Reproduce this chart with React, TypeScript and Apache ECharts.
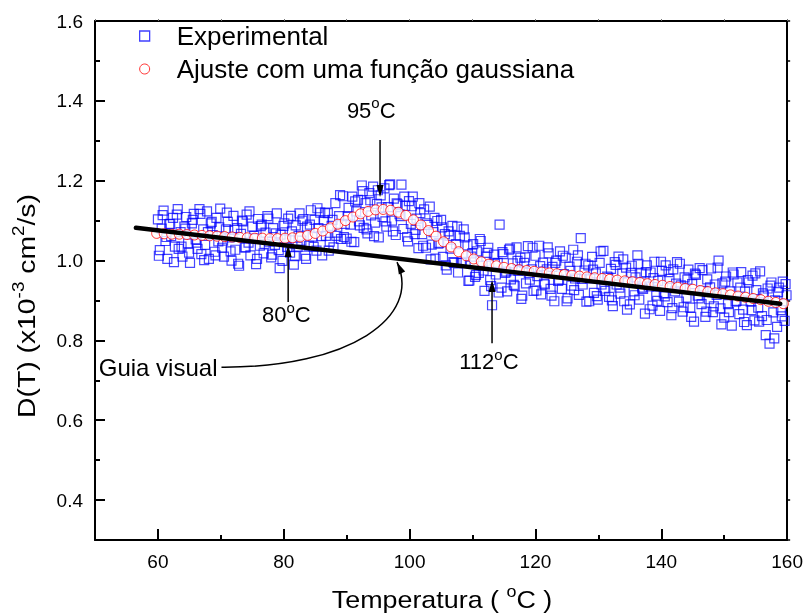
import React, { useEffect, useRef } from "react";
import * as echarts from "echarts";

const FONT = "'Liberation Sans', Arial, Helvetica, sans-serif";

// axis ranges / ticks / labels
const xRange = [50, 160];
const yRange = [0.3, 1.6];
const xMajorTicks = [60, 80, 100, 120, 140, 160];
const xMinorTicks = [70, 90, 110, 130, 150];
const yMajorTicks = [0.4, 0.6, 0.8, 1.0, 1.2, 1.4, 1.6];
const yMinorTicks = [0.5, 0.7, 0.9, 1.1, 1.3, 1.5];

// Experimental data [T (°C), D (x10^-3 cm^2/s)]
const experimental: [number, number][] = [
  [60.0, 1.103], [60.3, 1.026], [60.6, 1.080], [60.9, 1.125], [61.2, 1.049], [61.5, 1.004], [61.8, 1.091], [62.1, 1.061], [62.4, 1.107], [62.7, 1.035],
  [63.0, 1.115], [63.3, 1.029], [63.6, 1.071], [63.9, 1.010], [64.2, 1.085], [64.5, 1.109], [64.8, 1.043], [65.1, 0.994], [65.4, 1.093], [65.7, 1.117],
  [66.0, 1.053], [66.3, 1.029], [66.6, 1.129], [66.9, 1.016], [67.2, 1.078], [67.5, 1.039], [67.8, 1.123], [68.1, 1.004], [68.4, 1.093], [68.7, 1.064],
  [69.0, 1.022], [69.3, 1.107], [69.6, 1.048], [69.9, 1.130], [70.2, 1.032], [70.5, 1.010], [70.8, 1.078], [71.1, 1.097], [71.4, 1.058], [71.7, 1.000],
  [72.0, 1.112], [72.3, 1.027], [72.6, 1.081], [72.9, 0.987], [73.2, 1.067], [73.5, 1.098], [73.8, 1.033], [74.1, 1.115], [74.4, 1.045], [74.7, 1.013],
  [75.0, 1.085], [75.3, 1.062], [75.6, 0.991], [75.9, 1.104], [76.2, 1.037], [76.5, 1.090], [76.8, 1.018], [77.1, 1.070], [77.4, 1.111], [77.7, 1.047],
  [78.0, 1.008], [78.3, 1.081], [78.6, 1.039], [78.9, 1.118], [79.2, 1.026], [79.5, 1.065], [79.8, 0.999], [80.1, 1.093], [80.4, 1.053], [80.7, 1.105],
  [81.0, 1.020], [81.3, 1.073], [81.6, 0.990], [81.9, 1.088], [82.2, 1.035], [82.5, 1.118], [82.8, 1.050], [83.1, 1.104], [83.4, 1.012], [83.7, 1.085],
  [84.0, 1.037], [84.3, 1.126], [84.6, 1.060], [84.9, 1.102], [85.2, 1.025], [85.5, 1.081], [85.8, 1.120], [86.1, 1.013], [86.4, 1.101], [86.7, 1.062],
  [87.0, 1.119], [87.3, 1.047], [87.6, 1.087], [87.9, 1.033], [88.2, 1.144], [88.5, 1.070], [88.8, 1.111], [89.1, 1.054], [89.4, 1.161], [89.7, 1.092],
  [90.0, 1.055], [90.3, 1.132], [90.6, 1.090], [90.9, 1.160], [91.2, 1.046], [91.5, 1.123], [91.8, 1.152], [92.1, 1.088], [92.4, 1.188], [92.7, 1.082],
  [93.0, 1.144], [93.3, 1.068], [93.6, 1.169], [93.9, 1.113], [94.2, 1.185], [94.5, 1.095], [94.8, 1.142], [95.1, 1.058], [95.4, 1.163], [95.7, 1.109],
  [96.0, 1.181], [96.3, 1.085], [96.6, 1.134], [96.9, 1.191], [97.2, 1.100], [97.5, 1.155], [97.8, 1.064], [98.1, 1.141], [98.4, 1.116], [98.7, 1.190],
  [99.0, 1.079], [99.3, 1.137], [99.6, 1.059], [99.9, 1.149], [100.2, 1.092], [100.5, 1.160], [100.8, 1.066], [101.1, 1.105], [101.4, 1.031], [101.7, 1.119],
  [102.0, 1.066], [102.3, 1.128], [102.6, 1.032], [102.9, 1.089], [103.2, 1.135], [103.5, 1.040], [103.8, 1.071], [104.1, 1.005], [104.4, 1.099], [104.7, 1.044],
  [105.0, 1.102], [105.3, 1.009], [105.6, 1.066], [105.9, 0.977], [106.2, 1.073], [106.5, 1.030], [106.8, 1.087], [107.1, 0.994], [107.4, 1.041], [107.7, 0.970],
  [108.0, 1.062], [108.3, 0.994], [108.6, 1.078], [108.9, 0.997], [109.2, 1.038], [109.5, 0.950], [109.8, 1.010], [110.1, 1.041], [110.4, 0.959], [110.7, 1.023],
  [111.0, 0.969], [111.3, 1.049], [111.6, 0.987], [111.9, 0.924], [112.2, 1.010], [112.5, 1.032], [112.8, 0.951], [113.1, 0.888], [113.4, 1.015], [113.7, 0.965],
  [114.0, 0.994], [114.3, 1.090], [114.6, 0.932], [114.9, 1.016], [115.2, 0.969], [115.5, 0.923], [115.8, 1.027], [116.1, 0.953], [116.4, 0.993], [116.7, 0.936],
  [117.0, 1.033], [117.3, 0.974], [117.6, 1.007], [117.9, 0.912], [118.2, 0.994], [118.5, 0.943], [118.8, 1.036], [119.1, 0.952], [119.4, 0.978], [119.7, 0.924],
  [120.0, 1.012], [120.3, 0.961], [120.6, 1.037], [120.9, 0.915], [121.2, 0.995], [121.5, 0.940], [121.8, 0.978], [122.1, 1.018], [122.4, 0.929], [122.7, 0.984],
  [123.0, 0.898], [123.3, 1.000], [123.6, 0.949], [123.9, 1.023], [124.2, 0.929], [124.5, 0.966], [124.8, 1.007], [125.1, 0.905], [125.4, 0.985], [125.7, 0.937],
  [126.0, 1.027], [126.3, 0.955], [126.6, 0.997], [126.9, 0.914], [127.2, 1.056], [127.5, 0.940], [127.8, 0.975], [128.1, 0.897], [128.4, 0.988], [128.7, 0.955],
  [129.0, 1.009], [129.3, 0.919], [129.6, 0.968], [129.9, 0.902], [130.2, 0.994], [130.5, 0.940], [130.8, 1.024], [131.1, 0.924], [131.4, 0.960], [131.7, 0.909],
  [132.0, 0.979], [132.3, 0.886], [132.6, 0.996], [132.9, 0.940], [133.2, 1.010], [133.5, 0.917], [133.8, 0.968], [134.1, 0.898], [134.4, 0.982], [134.7, 0.946],
  [135.0, 0.890], [135.3, 0.987], [135.6, 0.923], [135.9, 0.958], [136.2, 1.013], [136.5, 0.902], [136.8, 0.968], [137.1, 0.929], [137.4, 0.867], [137.7, 0.988],
  [138.0, 0.935], [138.3, 0.970], [138.6, 0.887], [138.9, 0.997], [139.2, 0.912], [139.5, 0.949], [139.8, 0.874], [140.1, 0.974], [140.4, 0.918], [140.7, 0.988],
  [141.0, 0.896], [141.3, 0.954], [141.6, 0.863], [141.9, 0.978], [142.2, 0.923], [142.5, 0.996], [142.8, 0.897], [143.1, 0.938], [143.4, 0.872], [143.7, 0.958],
  [144.0, 0.907], [144.3, 0.977], [144.6, 0.882], [144.9, 0.941], [145.2, 0.847], [145.5, 0.964], [145.8, 0.912], [146.1, 0.981], [146.4, 0.891], [146.7, 0.924],
  [147.0, 0.859], [147.3, 0.953], [147.6, 0.903], [147.9, 0.980], [148.2, 0.871], [148.5, 0.940], [148.8, 0.914], [149.1, 1.000], [149.4, 0.880], [149.7, 0.943],
  [150.0, 0.857], [150.3, 0.960], [150.6, 0.891], [150.9, 0.923], [151.2, 0.837], [151.5, 0.965], [151.8, 0.897], [152.1, 0.945], [152.4, 0.866], [152.7, 0.971],
  [153.0, 0.877], [153.3, 0.922], [153.6, 0.838], [153.9, 0.945], [154.2, 0.897], [154.5, 0.962], [154.8, 0.850], [155.1, 0.926], [155.4, 0.882], [155.7, 0.973],
  [156.0, 0.861], [156.3, 0.912], [156.6, 0.813], [156.9, 0.930], [157.2, 0.792], [157.5, 0.945], [157.8, 0.870], [158.1, 0.900], [158.4, 0.834], [158.7, 0.932],
  [159.0, 0.876], [159.3, 0.947], [159.6, 0.849], [159.9, 0.913],
  [60.15, 1.012], [60.75, 1.114], [61.35, 1.059], [61.95, 1.092], [62.55, 0.996], [63.15, 1.129], [63.75, 1.035], [64.35, 1.080], [64.95, 1.020], [65.55, 1.102],
  [66.15, 1.045], [66.75, 1.117], [67.35, 1.001], [67.95, 1.071], [68.55, 1.097], [69.15, 1.013], [69.75, 1.083], [70.35, 1.050], [70.95, 1.120], [71.55, 1.023],
  [72.15, 1.077], [72.75, 0.992], [73.35, 1.100], [73.95, 1.033], [74.55, 1.123], [75.15, 1.055], [75.75, 1.004], [76.35, 1.086], [76.95, 1.042], [77.55, 1.105],
  [78.15, 1.015], [78.75, 1.068], [79.35, 0.981], [79.95, 1.087], [80.55, 1.034], [81.15, 1.112], [81.75, 1.011], [82.35, 1.062], [82.95, 1.100], [83.55, 1.004],
  [84.15, 1.090], [84.75, 1.034], [85.35, 1.131], [85.95, 1.061], [86.55, 1.120], [87.15, 1.025], [87.75, 1.102], [88.35, 1.062], [88.95, 1.164], [89.55, 1.059],
  [90.15, 1.111], [90.75, 1.047], [91.35, 1.148], [91.95, 1.098], [92.55, 1.174], [93.15, 1.078], [93.75, 1.151], [94.35, 1.061], [94.95, 1.176], [95.55, 1.133],
  [96.15, 1.098], [96.75, 1.189], [97.35, 1.073], [97.95, 1.143], [98.55, 1.111], [99.15, 1.160], [99.75, 1.048], [100.35, 1.136], [100.95, 1.077], [101.55, 1.144],
  [102.15, 1.037], [102.75, 1.093], [103.35, 1.003], [103.95, 1.107], [104.55, 1.042], [105.15, 1.083], [105.75, 0.988], [106.35, 1.062], [106.95, 0.996], [107.55, 1.085],
  [108.15, 0.994], [108.75, 1.058], [109.35, 0.949], [109.95, 1.018], [110.55, 0.964], [111.15, 1.054], [111.75, 0.975], [112.35, 1.019], [112.95, 0.936], [113.55, 0.993],
  [114.15, 0.920], [114.75, 1.021], [115.35, 0.972], [115.95, 1.030], [116.55, 0.939], [117.15, 0.999], [117.75, 0.904], [118.35, 1.008], [118.95, 0.969], [119.55, 1.032],
  [120.15, 0.925], [120.75, 0.986], [121.35, 0.942], [121.95, 1.033], [122.55, 0.912], [123.15, 0.994], [123.75, 0.952], [124.35, 1.012], [124.95, 0.898], [125.55, 0.974],
  [126.15, 0.926], [126.75, 1.013], [127.35, 0.954], [127.95, 0.992], [128.55, 0.898], [129.15, 0.977], [129.75, 0.911], [130.35, 1.023], [130.95, 0.930], [131.55, 0.957],
  [132.15, 0.900], [132.75, 0.989], [133.35, 0.932], [133.95, 1.003], [134.55, 0.877], [135.15, 0.969], [135.75, 0.913], [136.35, 0.992], [136.95, 0.932], [137.55, 0.971],
  [138.15, 0.878], [138.75, 0.956], [139.35, 0.899], [139.95, 0.997], [140.55, 0.910], [141.15, 0.971], [141.75, 0.881], [142.35, 0.942], [142.95, 0.992], [143.55, 0.883],
  [144.15, 0.952], [144.75, 0.859], [145.35, 0.967], [145.95, 0.905], [146.55, 0.976], [147.15, 0.872], [147.75, 0.933], [148.35, 0.885], [148.95, 0.982], [149.55, 0.840],
  [150.15, 0.947], [150.75, 0.871], [151.35, 0.970], [151.95, 0.899], [152.55, 0.932], [153.15, 0.846], [153.75, 0.951], [154.35, 0.876], [154.95, 0.968], [155.55, 0.847],
  [156.15, 0.918], [156.75, 0.851], [157.35, 0.937], [157.95, 0.805], [158.55, 0.921], [159.15, 0.860], [159.75, 0.941],
];

// Gaussian fit
const fitT = [
  59.8, 61.0, 62.2, 63.4, 64.6, 65.8, 67.0, 68.2, 69.4, 70.6,
  71.8, 73.0, 74.2, 75.4, 76.6, 77.8, 79.0, 80.2, 81.4, 82.6,
  83.8, 85.0, 86.2, 87.4, 88.6, 89.8, 91.0, 92.2, 93.4, 94.6,
  95.8, 97.0, 98.2, 99.4, 100.6, 101.8, 103.0, 104.2, 105.4, 106.6,
  107.8, 109.0, 110.2, 111.4, 112.6, 113.8, 115.0, 116.2, 117.4, 118.6,
  119.8, 121.0, 122.2, 123.4, 124.6, 125.8, 127.0, 128.2, 129.4, 130.6,
  131.8, 133.0, 134.2, 135.4, 136.6, 137.8, 139.0, 140.2, 141.4, 142.6,
  143.8, 145.0, 146.2, 147.4, 148.6, 149.8, 151.0, 152.2, 153.4, 154.6,
  155.8, 157.0, 158.2, 159.4,
];
const fitD = [
  1.068, 1.067, 1.066, 1.066, 1.065, 1.064, 1.063, 1.062, 1.061, 1.060,
  1.059, 1.058, 1.057, 1.056, 1.056, 1.055, 1.055, 1.056, 1.057, 1.059,
  1.063, 1.068, 1.074, 1.082, 1.091, 1.100, 1.109, 1.117, 1.123, 1.127,
  1.128, 1.126, 1.121, 1.113, 1.102, 1.089, 1.075, 1.061, 1.047, 1.034,
  1.022, 1.012, 1.004, 0.997, 0.991, 0.987, 0.983, 0.980, 0.977, 0.975,
  0.973, 0.971, 0.969, 0.967, 0.965, 0.963, 0.961, 0.959, 0.957, 0.955,
  0.953, 0.951, 0.949, 0.947, 0.945, 0.942, 0.940, 0.938, 0.935, 0.933,
  0.930, 0.928, 0.925, 0.922, 0.919, 0.917, 0.914, 0.911, 0.908, 0.905,
  0.902, 0.898, 0.895, 0.892,
];

// visual guide line
const guideT = [56.5, 158.9];
const guideD = [1.082, 0.892];

// annotations (data coordinates)
const arrowNames = ["95", "80", "112"];
const arrowT = [95.3, 80.7, 113.1];
const arrowFromD = [1.302, 0.896, 0.793];
const arrowTipD = [1.159, 1.039, 0.951];
const labelT = [93.9, 80.4, 112.6];
const labelD = [1.377, 0.864, 0.746];
// curved "Guia visual" arrow: start, control 1, control 2, tip
const curveT = [70.1, 90.4, 102.0, 98.0];
const curveD = [0.733, 0.731, 0.8585, 0.996];

const rich = {
  n: { fontSize: 22, fontFamily: FONT, color: "#000", lineHeight: 30 },
  s: { fontSize: 15, fontFamily: FONT, color: "#000", lineHeight: 16, verticalAlign: "top" },
};
const titleRich = {
  n: { fontSize: 24, fontFamily: FONT, color: "#000", lineHeight: 32 },
  s: { fontSize: 16, fontFamily: FONT, color: "#000", lineHeight: 17, verticalAlign: "top" },
};

const W = 806, H = 616;

export default function App() {
  const ref = useRef<HTMLDivElement>(null);
  useEffect(() => {
    document.body.style.margin = "0";
    if (!ref.current) return;
    const chart = echarts.init(ref.current, undefined, { renderer: "svg" });
    const black = "#000";
    const xBase = { type: "value", gridIndex: 0, min: xRange[0], max: xRange[1], interval: 10 };
    const yBase = { type: "value", gridIndex: 0, min: yRange[0], max: yRange[1], interval: 0.1 };
    const option: any = {
      animation: false,
      grid: { left: 95, right: 17, top: 21, bottom: 76 },
      legend: {
        orient: "vertical",
        left: 134,
        top: 18,
        itemWidth: 10,
        itemHeight: 10,
        itemGap: 7,
        selectedMode: false,
        textStyle: { fontSize: 26, fontFamily: FONT, color: black, padding: [0, 0, 0, 22] },
        data: [
          { name: "Experimental", icon: "rect", itemStyle: { color: "transparent", borderColor: "#1010ff", borderWidth: 1.3 } },
          { name: "Ajuste com uma função gaussiana", icon: "circle", itemStyle: { color: "#fff", borderColor: "#ff0000", borderWidth: 1 } },
        ],
      },
      xAxis: [
        {
          ...xBase,
          position: "bottom",
          splitLine: { show: false },
          axisLine: { show: true, lineStyle: { color: black, width: 2 } },
          axisTick: { show: true, inside: true, length: 11, customValues: xMajorTicks, lineStyle: { color: black, width: 2 } },
          axisLabel: { show: true, customValues: xMajorTicks, fontSize: 19, fontFamily: FONT, color: black, margin: 12 },
        },
        {
          ...xBase,
          position: "bottom",
          splitLine: { show: false },
          axisLine: { show: false },
          axisTick: { show: true, inside: true, length: 5, customValues: xMinorTicks, lineStyle: { color: black, width: 2 } },
          axisLabel: { show: false },
        },
        {
          ...xBase,
          position: "top",
          splitLine: { show: false },
          axisLine: { show: true, lineStyle: { color: black, width: 2 } },
          axisTick: { show: true, inside: false, length: 2, lineStyle: { color: "#777", width: 1 } },
          axisLabel: { show: false },
        },
      ],
      yAxis: [
        {
          ...yBase,
          position: "left",
          splitLine: { show: false },
          axisLine: { show: true, lineStyle: { color: black, width: 2 } },
          axisTick: { show: true, inside: true, length: 10, customValues: yMajorTicks, lineStyle: { color: black, width: 2 } },
          axisLabel: {
            show: true,
            customValues: yMajorTicks,
            fontSize: 19,
            fontFamily: FONT,
            color: black,
            margin: 12,
            formatter: (v: number) => v.toFixed(1),
          },
        },
        {
          ...yBase,
          position: "left",
          splitLine: { show: false },
          axisLine: { show: false },
          axisTick: { show: true, inside: true, length: 5, customValues: yMinorTicks, lineStyle: { color: black, width: 2 } },
          axisLabel: { show: false },
        },
        {
          ...yBase,
          position: "right",
          splitLine: { show: false },
          axisLine: { show: true, lineStyle: { color: black, width: 2 } },
          axisTick: { show: true, inside: false, length: 3, lineStyle: { color: black, width: 1.5 } },
          axisLabel: { show: false },
        },
      ],
      series: [
        {
          name: "Experimental",
          type: "scatter",
          xAxisIndex: 0,
          yAxisIndex: 0,
          symbol: "rect",
          symbolSize: 9,
          z: 2,
          itemStyle: { color: "transparent", borderColor: "rgba(0,0,255,0.9)", borderWidth: 1.2 },
          data: experimental,
        },
        {
          name: "Ajuste com uma função gaussiana",
          type: "scatter",
          xAxisIndex: 0,
          yAxisIndex: 0,
          symbol: "circle",
          symbolSize: 10,
          z: 3,
          itemStyle: { color: "#fff", borderColor: "#ff0000", borderWidth: 1 },
          data: fitT.map((t, i) => [t, fitD[i]]),
        },
        {
          name: "Guia visual",
          type: "line",
          xAxisIndex: 0,
          yAxisIndex: 0,
          symbol: "none",
          z: 4,
          lineStyle: { color: black, width: 4.5, cap: "round" },
          data: guideT.map((t, i) => [t, guideD[i]]),
        },
      ],
    };
    chart.setOption(option);

    const px = (t: number, d: number) => chart.convertToPixel({ seriesIndex: 0 }, [t, d]) as number[];
    const g: any[] = [];
    for (let i = 0; i < arrowNames.length; i++) {
      const [x, y0] = px(arrowT[i], arrowFromD[i]);
      const [, y1] = px(arrowT[i], arrowTipD[i]);
      const dir = y1 > y0 ? 1 : -1;
      g.push({ type: "line", z: 100, silent: true, shape: { x1: x, y1: y0, x2: x, y2: y1 - dir * 9 }, style: { stroke: black, lineWidth: 1.5 } });
      g.push({
        type: "polygon",
        z: 100,
        silent: true,
        shape: { points: [[x, y1], [x - 3.5, y1 - dir * 12], [x + 3.5, y1 - dir * 12]] },
        style: { fill: black },
      });
      const [lx, ly] = px(labelT[i], labelD[i]);
      g.push({
        type: "text",
        z: 100,
        silent: true,
        x: lx,
        y: ly,
        style: { text: `{n|${arrowNames[i]}}{s|o}{n|C}`, rich, align: "center", verticalAlign: "middle", fill: black },
      });
    }
    const c0 = px(curveT[0], curveD[0]);
    const c1 = px(curveT[1], curveD[1]);
    const c2 = px(curveT[2], curveD[2]);
    const c3 = px(curveT[3], curveD[3]);
    g.push({
      type: "bezierCurve",
      z: 100,
      silent: true,
      shape: { x1: c0[0], y1: c0[1], cpx1: c1[0], cpy1: c1[1], cpx2: c2[0], cpy2: c2[1], x2: c3[0], y2: c3[1] },
      style: { stroke: black, lineWidth: 1.5, fill: "none" },
    });
    {
      const dx = c3[0] - c2[0];
      const dy = c3[1] - c2[1];
      const len = Math.hypot(dx, dy);
      const ux = dx / len, uy = dy / len;
      const bx = c3[0] - ux * 12, by = c3[1] - uy * 12;
      g.push({
        type: "polygon",
        z: 100,
        silent: true,
        shape: { points: [[c3[0], c3[1]], [bx - uy * 3.5, by + ux * 3.5], [bx + uy * 3.5, by - ux * 3.5]] },
        style: { fill: black },
      });
    }
    g.push({
      type: "text",
      z: 100,
      silent: true,
      x: c0[0] - 4,
      y: c0[1],
      style: { text: "Guia visual", fontSize: 24, fontFamily: FONT, fill: black, align: "right", verticalAlign: "middle" },
    });
    // axis titles
    g.push({
      type: "text",
      silent: true,
      x: 442,
      y: 600,
      scaleX: 1.12,
      style: { text: "{n|Temperatura ( }{s|o}{n|C )}", rich: titleRich, align: "center", verticalAlign: "middle", fill: black },
    });
    g.push({
      type: "text",
      silent: true,
      x: 27,
      y: 306,
      rotation: Math.PI / 2,
      scaleX: 1.18,
      style: { text: "{n|D(T) (x10}{s|-3}{n| cm}{s|2}{n|/s)}", rich: titleRich, align: "center", verticalAlign: "middle", fill: black },
    });
    chart.setOption({ graphic: g });

    return () => chart.dispose();
  }, []);
  return <div ref={ref} style={{ position: "fixed", left: 0, top: 0, width: W, height: H }} />;
}
